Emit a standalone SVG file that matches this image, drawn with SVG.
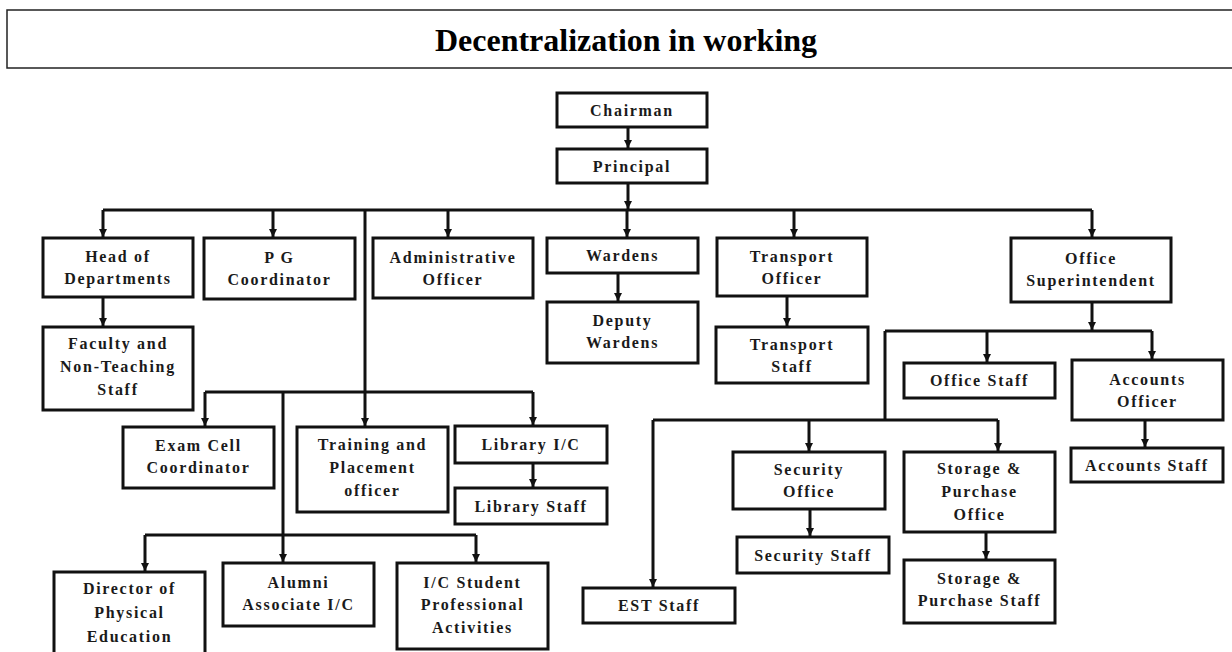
<svg xmlns="http://www.w3.org/2000/svg" width="1232" height="652" viewBox="0 0 1232 652">
<style>
.box{fill:#fff;stroke:#111;stroke-width:3}
.t{font-family:"Liberation Serif","Times New Roman",serif;font-weight:bold;font-size:16px;letter-spacing:1.7px;fill:#1a1a1a;text-anchor:middle}
.ln{fill:none;stroke:#111;stroke-width:3}
.ar{fill:none;stroke:#111;stroke-width:3;marker-end:url(#ah)}
.title{font-family:"Liberation Serif","Times New Roman",serif;font-weight:bold;font-size:32px;fill:#000;text-anchor:middle}
</style>
<defs>
<marker id="ah" markerUnits="userSpaceOnUse" markerWidth="10" markerHeight="10" refX="8" refY="4" orient="auto">
<path d="M0,0 L8,4 L0,8 z" fill="#111"/>
</marker>
</defs>
<rect width="1232" height="652" fill="#fff"/>
<g id="title">
<rect x="7" y="10" width="1240" height="58" fill="#fff" stroke="#222" stroke-width="1.5"/>
<text class="title" x="626" y="51">Decentralization in working</text>
</g>
<g id="connectors">
<path class="ar" d="M628,127 V148"/>
<path class="ar" d="M628,183 V209"/>
<path class="ln" d="M103,210 H1092"/>
<path class="ar" d="M103,210 V237"/>
<path class="ar" d="M273,210 V237"/>
<path class="ar" d="M448,210 V237"/>
<path class="ar" d="M627,210 V237"/>
<path class="ar" d="M794,210 V237"/>
<path class="ar" d="M1092,210 V237"/>
<path class="ar" d="M365,210 V426"/>
<path class="ar" d="M103,297 V326"/>
<path class="ar" d="M618,273 V301"/>
<path class="ar" d="M787,296 V326"/>
<path class="ln" d="M205,392 H533"/>
<path class="ar" d="M205,392 V426"/>
<path class="ar" d="M533,392 V425"/>
<path class="ar" d="M283,392 V562"/>
<path class="ln" d="M145,535 H476"/>
<path class="ar" d="M145,535 V571"/>
<path class="ar" d="M476,535 V562"/>
<path class="ar" d="M533,463 V487"/>
<path class="ar" d="M1092,302 V330"/>
<path class="ln" d="M885,331 H1152"/>
<path class="ar" d="M987,331 V362"/>
<path class="ar" d="M1152,331 V359"/>
<path class="ar" d="M1145,420 V447"/>
<path class="ln" d="M885,331 V420"/>
<path class="ln" d="M653,420 H998"/>
<path class="ar" d="M653,420 V587"/>
<path class="ar" d="M809,420 V451"/>
<path class="ar" d="M998,420 V451"/>
<path class="ar" d="M810,509 V536"/>
<path class="ar" d="M986,532 V559"/>
</g>
<g id="chairman"><rect class="box" x="557" y="93" width="150" height="34"/><text class="t" x="632" y="115.5">Chairman</text></g>
<g id="principal"><rect class="box" x="557" y="149" width="150" height="34"/><text class="t" x="632" y="171.5">Principal</text></g>
<g id="hod"><rect class="box" x="43" y="238" width="150" height="59"/><text class="t" x="118" y="262">Head of</text><text class="t" x="118" y="284">Departments</text></g>
<g id="pg"><rect class="box" x="204" y="238" width="151" height="61"/><text class="t" x="279.5" y="263">P G</text><text class="t" x="279.5" y="285">Coordinator</text></g>
<g id="admin"><rect class="box" x="373" y="238" width="160" height="60"/><text class="t" x="453" y="262.5">Administrative</text><text class="t" x="453" y="284.5">Officer</text></g>
<g id="wardens"><rect class="box" x="547" y="238" width="151" height="35"/><text class="t" x="622.5" y="261">Wardens</text></g>
<g id="deputy"><rect class="box" x="547" y="302" width="151" height="61"/><text class="t" x="622.5" y="326">Deputy</text><text class="t" x="622.5" y="348">Wardens</text></g>
<g id="transport"><rect class="box" x="717" y="238" width="150" height="58"/><text class="t" x="792" y="261.5">Transport</text><text class="t" x="792" y="283.5">Officer</text></g>
<g id="transport-staff"><rect class="box" x="716" y="327" width="152" height="56"/><text class="t" x="792" y="349.5">Transport</text><text class="t" x="792" y="371.5">Staff</text></g>
<g id="office-sup"><rect class="box" x="1011" y="238" width="160" height="64"/><text class="t" x="1091" y="264">Office</text><text class="t" x="1091" y="286">Superintendent</text></g>
<g id="office-staff"><rect class="box" x="904" y="363" width="151" height="35"/><text class="t" x="979.5" y="386">Office Staff</text></g>
<g id="accounts"><rect class="box" x="1072" y="360" width="151" height="60"/><text class="t" x="1147.5" y="384.5">Accounts</text><text class="t" x="1147.5" y="406.5">Officer</text></g>
<g id="accounts-staff"><rect class="box" x="1071" y="448" width="152" height="34"/><text class="t" x="1147" y="470.5">Accounts Staff</text></g>
<g id="faculty"><rect class="box" x="43" y="327" width="150" height="83"/><text class="t" x="118" y="349">Faculty and</text><text class="t" x="118" y="372">Non-Teaching</text><text class="t" x="118" y="395">Staff</text></g>
<g id="exam"><rect class="box" x="123" y="427" width="151" height="61"/><text class="t" x="198.5" y="451">Exam Cell</text><text class="t" x="198.5" y="473">Coordinator</text></g>
<g id="training"><rect class="box" x="297" y="427" width="151" height="85"/><text class="t" x="372.5" y="450">Training and</text><text class="t" x="372.5" y="473">Placement</text><text class="t" x="372.5" y="496">officer</text></g>
<g id="library"><rect class="box" x="455" y="426" width="152" height="37"/><text class="t" x="531" y="450">Library I/C</text></g>
<g id="library-staff"><rect class="box" x="455" y="488" width="152" height="36"/><text class="t" x="531" y="511.5">Library Staff</text></g>
<g id="director"><rect class="box" x="54" y="572" width="151" height="90"/><text class="t" x="129.5" y="594">Director of</text><text class="t" x="129.5" y="618">Physical</text><text class="t" x="129.5" y="642">Education</text></g>
<g id="alumni"><rect class="box" x="223" y="563" width="151" height="63"/><text class="t" x="298.5" y="588">Alumni</text><text class="t" x="298.5" y="610">Associate I/C</text></g>
<g id="ic-student"><rect class="box" x="397" y="563" width="151" height="86"/><text class="t" x="472.5" y="588">I/C Student</text><text class="t" x="472.5" y="610">Professional</text><text class="t" x="472.5" y="633">Activities</text></g>
<g id="est"><rect class="box" x="583" y="588" width="152" height="35"/><text class="t" x="659" y="611">EST Staff</text></g>
<g id="security"><rect class="box" x="733" y="452" width="152" height="57"/><text class="t" x="809" y="475">Security</text><text class="t" x="809" y="497">Office</text></g>
<g id="security-staff"><rect class="box" x="737" y="537" width="152" height="36"/><text class="t" x="813" y="560.5">Security Staff</text></g>
<g id="storage"><rect class="box" x="904" y="452" width="151" height="80"/><text class="t" x="979.5" y="474">Storage &amp;</text><text class="t" x="979.5" y="497">Purchase</text><text class="t" x="979.5" y="520">Office</text></g>
<g id="storage-staff"><rect class="box" x="904" y="560" width="151" height="63"/><text class="t" x="979.5" y="584">Storage &amp;</text><text class="t" x="979.5" y="606">Purchase Staff</text></g>
</svg>
